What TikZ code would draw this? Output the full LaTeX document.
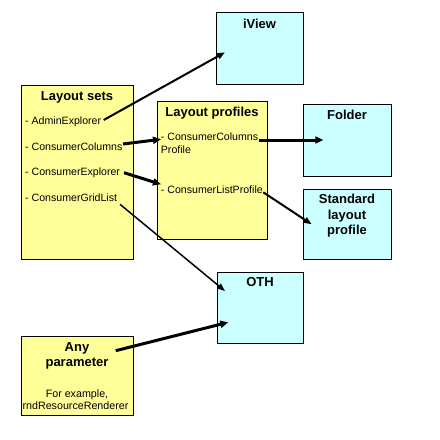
\documentclass[tikz,border=0pt]{standalone}
\usepackage{fontspec}
\setmainfont{Liberation Sans}
\usetikzlibrary{arrows.meta}
\definecolor{pyellow}{HTML}{FFFF99}
\definecolor{pcyan}{HTML}{CCFFFF}
\begin{document}
\begin{tikzpicture}[x=1pt,y=-1pt,
  ybox/.style={draw=black,line width=0.9pt,fill=pyellow},
  cbox/.style={draw=black,line width=0.9pt,fill=pcyan},
  ttl/.style={font=\fontsize{13}{15.5}\selectfont\bfseries,anchor=base,inner sep=0pt,align=center},
  itm/.style={font=\fontsize{10.6}{12.5}\selectfont,anchor=base west,inner sep=1.5pt},
  sml/.style={font=\fontsize{10.7}{12.7}\selectfont,anchor=base,inner sep=0pt,align=center},
  thk/.style={line width=3pt,-{Triangle[length=8pt,width=7pt]}},
  med/.style={line width=2pt,-{Triangle[length=8pt,width=6pt]}},
  thn/.style={line width=1.5pt,-{Triangle[length=8pt,width=6pt]}}]
\useasboundingbox (0,0) rectangle (440,440);
\fill[white] (0,0) rectangle (440,440);
% boxes
\draw[ybox] (21,85) rectangle (133,259);
\node[inner sep=0] (sets) at (77,172) {};
\draw[ybox] (157,101) rectangle (267,239);
\node[inner sep=0] (profiles) at (212,170) {};
\draw[cbox] (216,12) rectangle (303,84);
\node[inner sep=0] (iview) at (259.5,48) {};
\draw[cbox] (303,104) rectangle (391,176);
\node[inner sep=0] (folder) at (347,140) {};
\draw[cbox] (303,189) rectangle (391,259);
\node[inner sep=0] (std) at (347,224) {};
\draw[cbox] (217,272) rectangle (303,343);
\node[inner sep=0] (oth) at (260,307) {};
\draw[ybox] (21,336) rectangle (133,415);
\node[inner sep=0] (anyp) at (77,375) {};
% titles
\node[ttl] (t1) at (77,100.4) {Layout sets};
\node[ttl] (t2) at (212,116.4) {Layout profiles};
\node[ttl] (t3) at (259.5,28.7) {iView};
\node[ttl] (t4) at (347,119.7) {Folder};
\node[ttl] (t5a) at (347,203.7) {Standard};
\node[ttl] (t5b) at (347,219.7) {layout};
\node[ttl] (t5c) at (347,234.7) {profile};
\node[ttl] (t6) at (260,286.7) {OTH};
\node[ttl] (t7a) at (77,351.7) {Any};
\node[ttl] (t7b) at (77,366.7) {parameter};
\node[sml] (ex1) at (77,397) {For example,};
\node[sml] (ex2) at (75.5,409.7) {rndResourceRenderer};
% items
\node[itm] (ae) at (23.5,124.5) {- AdminExplorer};
\node[itm] (cc) at (23.5,150) {- ConsumerColumns};
\node[itm] (ce) at (23.5,175.7) {- ConsumerExplorer};
\node[itm] (cg) at (23.5,201) {- ConsumerGridList};
\node[itm] (ccp) at (159.2,140.7) {- ConsumerColumns};
\node[itm] (ccp2) at (159.2,153.3) {Profile};
\node[itm] (clp) at (159.2,193) {- ConsumerListProfile};
% arrow ends
\coordinate (e1) at (225,52.3);
\coordinate (e2) at (161,139.3);
\coordinate (e3) at (161,184.3);
\coordinate (e4) at (225,291);
\coordinate (e5) at (323.3,140);
\coordinate (e6) at (311.7,224.3);
\coordinate (e7) at (228.3,322.3);
\coordinate (s1) at (103.7,120);
\coordinate (s2) at (123,144);
\coordinate (s3) at (124,172.7);
\coordinate (s4) at (120,204.3);
\coordinate (s5) at (259.3,140);
\coordinate (s6) at (263.3,192.3);
\coordinate (s7) at (115.7,350.7);
\draw[med] (s1) -- (e1);
\draw[thk] (s2) -- (e2);
\draw[thk] (s3) -- (e3);
\draw[thn] (s4) -- (e4);
\draw[thk] (s5) -- (e5);
\draw[med] (s6) -- (e6);
\draw[thk] (s7) -- (e7);
\end{tikzpicture}
\end{document}
